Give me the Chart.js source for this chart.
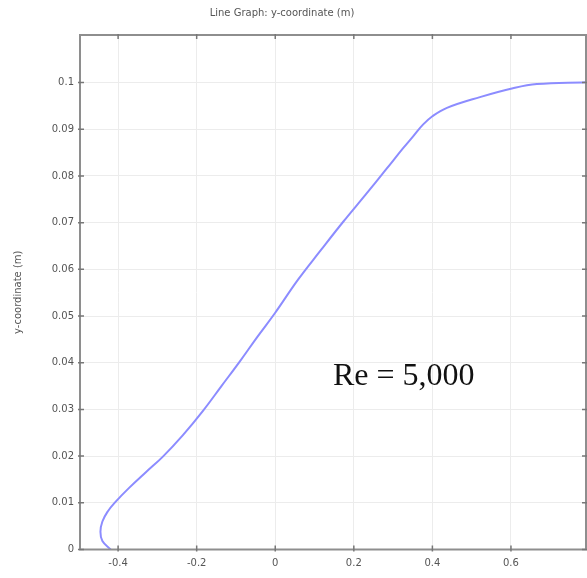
<!DOCTYPE html>
<html>
<head>
<meta charset="utf-8">
<script src="https://cdn.jsdelivr.net/npm/chart.js@4/dist/chart.umd.min.js"></script>
<style>
  html, body { margin: 0; padding: 0; background: #fff; }
  #wrap { width: 587px; height: 578px; position: relative; }
</style>
</head>
<body>
<div id="wrap"><canvas id="chart" width="587" height="578"></canvas></div>
<script>
// curve (x in m, y in m)
const xValues = [-0.419, -0.440, -0.445, -0.440, -0.426, -0.409, -0.372, -0.330, -0.286, -0.235,
    -0.184, -0.137, -0.090, -0.046, -0.001, 0.058, 0.115, 0.173, 0.230, 0.283,
    0.326, 0.352, 0.376, 0.400, 0.437, 0.521, 0.605, 0.666, 0.791];
const yValues = [0, 0.0018, 0.0038, 0.0060, 0.0082, 0.0100, 0.0132, 0.0165, 0.0199, 0.0245,
    0.0297, 0.0350, 0.0403, 0.0455, 0.0506, 0.0578, 0.0640, 0.0702, 0.0760, 0.0815,
    0.0860, 0.0886, 0.0910, 0.0928, 0.0946, 0.0969, 0.0988, 0.0997, 0.1001];

const xTicks = [-0.4, -0.2, 0, 0.2, 0.4, 0.6];
const yTicks = [0, 0.01, 0.02, 0.03, 0.04, 0.05, 0.06, 0.07, 0.08, 0.09, 0.1];

const chartTitle = "Line Graph: y-coordinate (m)";
const yTitle = "y-coordinate (m)";
const note = "Re = 5,000";

const points = xValues.map((x, i) => ({x: x, y: yValues[i]}));

// frame, inward ticks and the text on top
const frameTicks = {
    id: 'frameTicks',
    afterDraw(chart) {
        const {ctx, chartArea: a, scales: {x, y}} = chart;
        ctx.save();
        ctx.strokeStyle = '#8e8e8e';
        ctx.lineWidth = 2;
        ctx.strokeRect(a.left, a.top, a.right - a.left, a.bottom - a.top);

        ctx.lineWidth = 1.5;
        ctx.strokeStyle = '#777';
        ctx.beginPath();
        xTicks.forEach(v => {
            const px = x.getPixelForValue(v);
            ctx.moveTo(px, a.bottom + 2); ctx.lineTo(px, a.bottom - 4);
            ctx.moveTo(px, a.top - 1); ctx.lineTo(px, a.top + 4);
        });
        yTicks.forEach(v => {
            const py = y.getPixelForValue(v);
            ctx.moveTo(a.left - 2, py); ctx.lineTo(a.left + 4, py);
            ctx.moveTo(a.right + 1, py); ctx.lineTo(a.right - 4, py);
        });
        ctx.stroke();

        ctx.fillStyle = '#555';
        ctx.font = '10px "DejaVu Sans", sans-serif';
        ctx.textAlign = 'center';
        ctx.textBaseline = 'middle';
        ctx.fillText(chartTitle, 282, 13);

        ctx.fillStyle = '#111';
        ctx.font = '32px "Liberation Serif", "Times New Roman", serif';
        ctx.textAlign = 'left';
        ctx.textBaseline = 'alphabetic';
        ctx.fillText(note, 333, 385);
        ctx.restore();
    }
};

new Chart(document.getElementById("chart"), {
    type: 'scatter',
    data: {
        datasets: [{
            data: points,
            showLine: true,
            borderColor: '#8c8cff',
            borderWidth: 2,
            pointRadius: 0,
            tension: 0.4,
            fill: false
        }]
    },
    options: {
        responsive: false,
        animation: false,
        layout: {padding: {top: 35, right: 1, left: 0, bottom: 0}},
        plugins: {legend: {display: false}, tooltip: {enabled: false}},
        scales: {
            x: {
                type: 'linear',
                min: -0.497,
                max: 0.791,
                afterBuildTicks: s => { s.ticks = xTicks.map(v => ({value: v})); },
                afterFit: s => { s.height = 28.5; },
                grid: {color: '#ececec', drawTicks: false},
                border: {display: false},
                ticks: {
                    padding: 8,
                    color: '#555',
                    font: {family: '"DejaVu Sans", sans-serif', size: 10},
                    callback: v => String(+v.toFixed(2))
                }
            },
            y: {
                type: 'linear',
                min: 0,
                max: 0.1102,
                afterBuildTicks: s => { s.ticks = yTicks.map(v => ({value: v})); },
                afterFit: s => { s.width = 80; },
                grid: {color: '#ececec', drawTicks: false},
                border: {display: false},
                title: {
                    display: true,
                    text: yTitle,
                    color: '#555',
                    padding: {top: 12, bottom: 0},
                    font: {family: '"DejaVu Sans", sans-serif', size: 10}
                },
                ticks: {
                    padding: 6,
                    color: '#555',
                    font: {family: '"DejaVu Sans", sans-serif', size: 10},
                    callback: v => String(+v.toFixed(2))
                }
            }
        }
    },
    plugins: [frameTicks]
});
</script>
</body>
</html>
